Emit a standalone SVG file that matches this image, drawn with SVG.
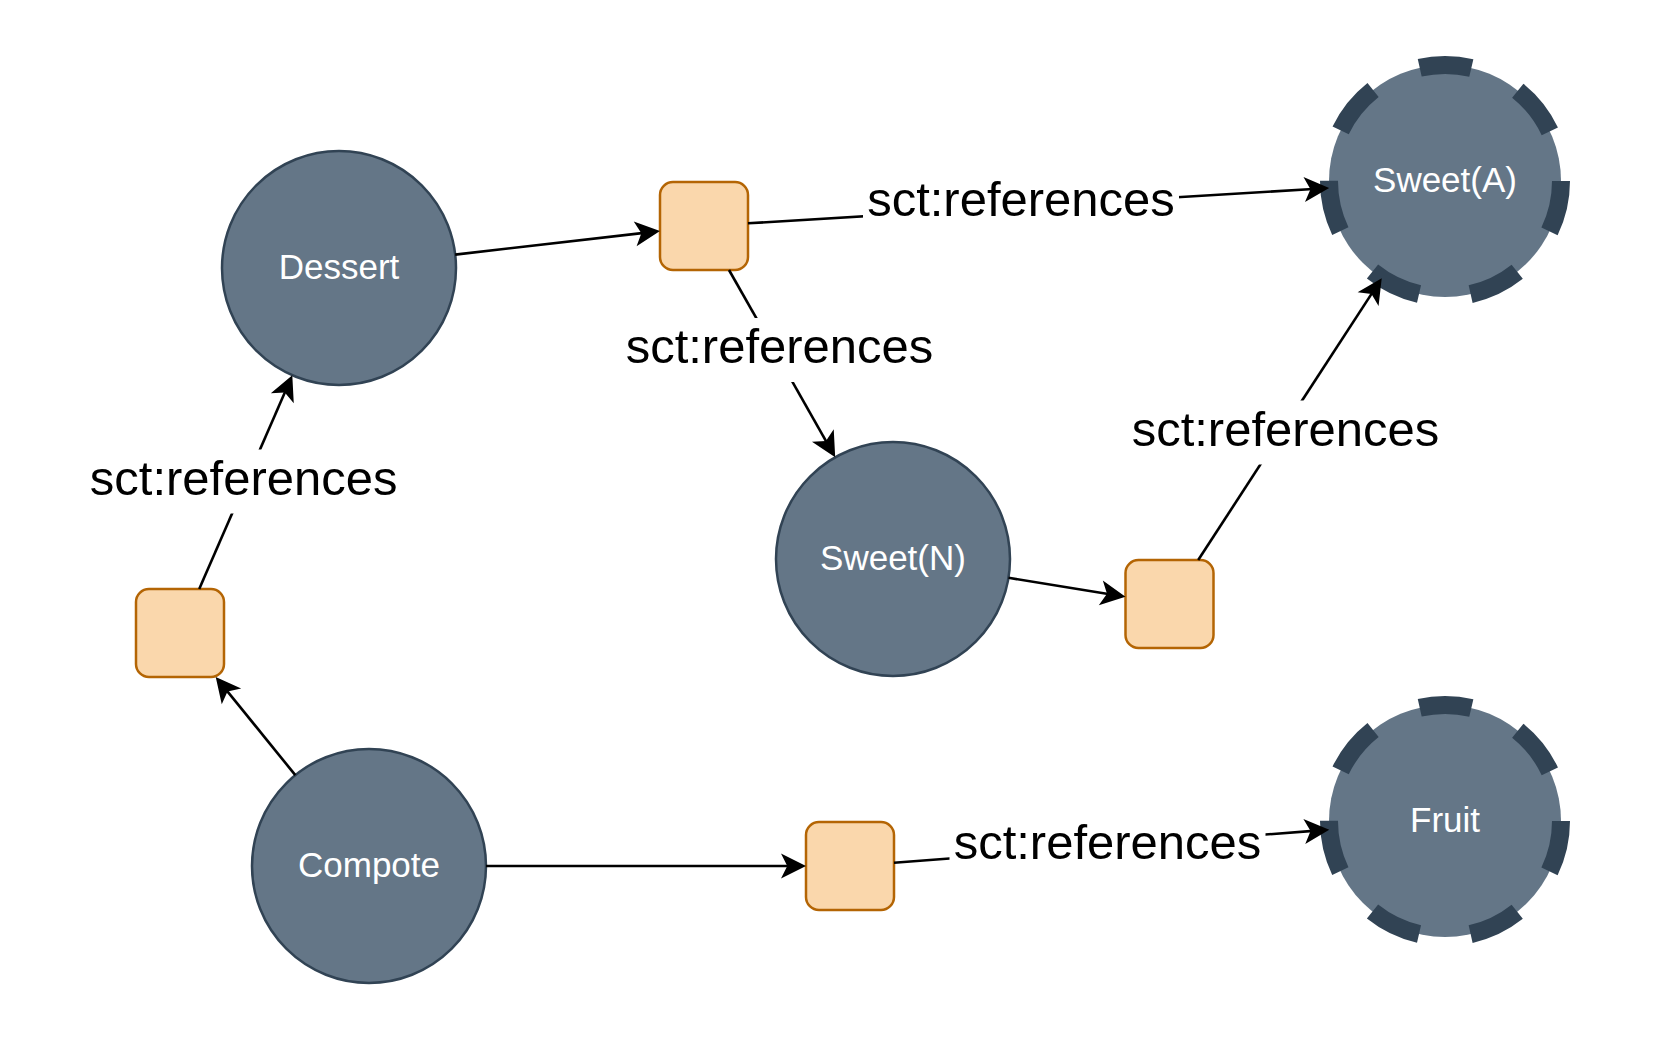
<svg xmlns="http://www.w3.org/2000/svg" width="1661" height="1041" viewBox="0 0 1661 1041">
<defs>
<style>
.node{fill:#647687;stroke:#314354;stroke-width:2.5}
.dnode{fill:#647687;stroke:#314354;stroke-width:18;stroke-dasharray:52.06 52.06}
.box{fill:#fad7ac;stroke:#b46504;stroke-width:2.5}
.nlabel{font-family:"Liberation Sans",Arial,sans-serif;font-size:35px;fill:#ffffff;text-anchor:middle}
.edge{fill:none;stroke:#000000;stroke-width:2.6}
.lbg{fill:#ffffff}
.elabel{font-family:"Liberation Sans",Arial,sans-serif;font-size:49px;fill:#000000;text-anchor:middle}
</style>
<marker id="arr" markerUnits="userSpaceOnUse" orient="auto" refX="0" refY="0" markerWidth="30" markerHeight="30" overflow="visible">
<path d="M16,0 L-9,-12.5 L-2.75,0 L-9,12.5 Z" fill="#000000"/>
</marker>
</defs>
<rect x="0" y="0" width="1661" height="1041" fill="#ffffff"/>
<g id="dessert"><circle class="node" cx="339" cy="268" r="117"/><text class="nlabel" x="339" y="279">Dessert</text></g>
<g id="compote"><circle class="node" cx="369" cy="866" r="117"/><text class="nlabel" x="369" y="877">Compote</text></g>
<g id="sweetN"><circle class="node" cx="893" cy="559" r="117"/><text class="nlabel" x="893" y="570">Sweet(N)</text></g>
<g id="sweetA"><circle class="dnode" cx="1445" cy="181" r="116"/><text class="nlabel" x="1445" y="192">Sweet(A)</text></g>
<g id="fruit"><circle class="dnode" cx="1445" cy="821" r="116"/><text class="nlabel" x="1445" y="832">Fruit</text></g>
<g id="box1"><rect class="box" x="136" y="589" width="88" height="88" rx="13"/></g>
<g id="box2"><rect class="box" x="660" y="182" width="88" height="88" rx="13"/></g>
<g id="box3"><rect class="box" x="1125.5" y="560" width="88" height="88" rx="13"/></g>
<g id="box4"><rect class="box" x="806" y="822" width="88" height="88" rx="13"/></g>
<g id="connectors">
<line class="edge" x1="295.3" y1="775.1" x2="225.8" y2="689.4" marker-end="url(#arr)"/>
<line class="edge" x1="199.2" y1="589" x2="285.9" y2="390" marker-end="url(#arr)"/>
<line class="edge" x1="455.2" y1="254.6" x2="644.1" y2="232.9" marker-end="url(#arr)"/>
<line class="edge" x1="748" y1="223.3" x2="1313.2" y2="189" marker-end="url(#arr)"/>
<line class="edge" x1="729" y1="270" x2="827.3" y2="443.3" marker-end="url(#arr)"/>
<line class="edge" x1="1008.5" y1="577.8" x2="1109.7" y2="594.3" marker-end="url(#arr)"/>
<line class="edge" x1="1198.2" y1="560" x2="1373" y2="291.6" marker-end="url(#arr)"/>
<line class="edge" x1="486" y1="866" x2="790" y2="866" marker-end="url(#arr)"/>
<line class="edge" x1="894" y1="862.7" x2="1313.3" y2="830.9" marker-end="url(#arr)"/>
<g id="label1"><rect class="lbg" x="86" y="449.5" width="316" height="64"/><text class="elabel" x="243.7" y="494.5">sct:references</text></g>
<g id="label2"><rect class="lbg" x="863" y="170.5" width="316" height="64"/><text class="elabel" x="1021" y="215.5">sct:references</text></g>
<g id="label3"><rect class="lbg" x="621.5" y="318" width="316" height="64"/><text class="elabel" x="779.5" y="363">sct:references</text></g>
<g id="label4"><rect class="lbg" x="1127.5" y="400.5" width="316" height="64"/><text class="elabel" x="1285.5" y="445.5">sct:references</text></g>
<g id="label5"><rect class="lbg" x="949.5" y="813.5" width="316" height="64"/><text class="elabel" x="1107.5" y="858.5">sct:references</text></g>
</g>
</svg>
